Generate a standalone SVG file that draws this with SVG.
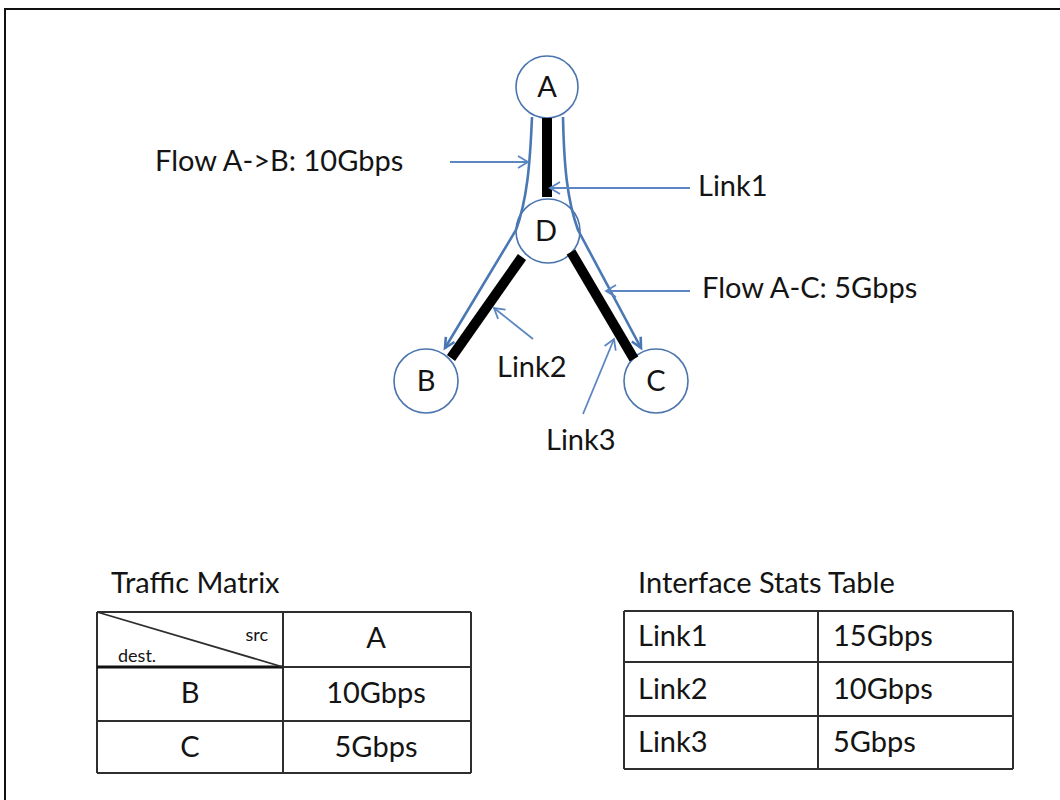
<svg xmlns="http://www.w3.org/2000/svg" width="1060" height="800" viewBox="0 0 1060 800">
  <defs>
    <style>
      .txt { font-family: Lato, "Liberation Sans", sans-serif; fill: #141414; }
      .lbl { font-size: 29px; }
      .small { font-size: 18px; }
      .node { fill: #ffffff; stroke: #4a74ad; stroke-width: 1.6; }
      .link { stroke: #000000; stroke-width: 10; fill: none; }
      .flow { stroke: #4a78b4; stroke-width: 2.6; fill: none; }
      .note { stroke: #5b86c2; stroke-width: 1.8; fill: none; }
      .grid { stroke: #2e2e2e; stroke-width: 2; fill: none; }
    </style>
    <marker id="open" markerUnits="userSpaceOnUse" markerWidth="14" markerHeight="16" refX="11" refY="7" orient="auto">
      <path d="M1,1 L11,7 L1,13" fill="none" stroke="#5b86c2" stroke-width="1.8"/>
    </marker>
    <marker id="head" markerUnits="userSpaceOnUse" markerWidth="14" markerHeight="14" refX="11" refY="6" orient="auto">
      <path d="M1,1 L11,6 L1,11" fill="none" stroke="#4a78b4" stroke-width="2.6"/>
    </marker>
  </defs>

  <rect width="1060" height="800" fill="#ffffff"/>
  <!-- page frame -->
  <path d="M5,800 L5,9 L1060,9" fill="none" stroke="#111111" stroke-width="2"/>

  <!-- nodes -->
  <g id="node-A">
    <circle class="node" cx="547" cy="87" r="31"/>
    <text class="txt lbl" x="547" y="97" text-anchor="middle">A</text>
  </g>
  <g id="node-D">
    <circle class="node" cx="548" cy="231" r="32"/>
    <text class="txt lbl" x="546" y="241" text-anchor="middle">D</text>
  </g>
  <g id="node-B">
    <circle class="node" cx="426" cy="381" r="32"/>
    <text class="txt lbl" x="426" y="391" text-anchor="middle">B</text>
  </g>
  <g id="node-C">
    <circle class="node" cx="656" cy="381" r="32"/>
    <text class="txt lbl" x="656" y="391" text-anchor="middle">C</text>
  </g>

  <!-- connectors: links, flows and callouts -->
  <g id="connectors">
    <line id="link1" class="link" x1="547" y1="118" x2="547" y2="197"/>
    <line id="link2" class="link" x1="522" y1="257" x2="451" y2="358"/>
    <line id="link3" class="link" x1="571" y1="252" x2="634" y2="359"/>

    <path id="flow-ab" class="flow" d="M532,117 C530,165 527,200 516,230 L445,348" marker-end="url(#head)"/>
    <path id="flow-ac" class="flow" d="M563,117 C564,165 567,200 578,230 L641,348" marker-end="url(#head)"/>

    <line class="note" x1="450" y1="162" x2="528" y2="162" marker-end="url(#open)"/>
    <line class="note" x1="690" y1="188" x2="550" y2="188" marker-end="url(#open)"/>
    <line class="note" x1="690" y1="291" x2="606" y2="291" marker-end="url(#open)"/>
    <line class="note" x1="533" y1="339" x2="494" y2="308" marker-end="url(#open)"/>
    <line class="note" x1="583" y1="414" x2="614" y2="339" marker-end="url(#open)"/>
  </g>

  <!-- callout labels -->
  <text class="txt lbl" x="155" y="171">Flow A-&gt;B: 10Gbps</text>
  <text class="txt lbl" x="698" y="196">Link1</text>
  <text class="txt lbl" x="702" y="298">Flow A-C: 5Gbps</text>
  <text class="txt lbl" x="497" y="377">Link2</text>
  <text class="txt lbl" x="546" y="450">Link3</text>

  <!-- traffic matrix -->
  <g id="traffic-matrix">
    <text class="txt lbl" x="111" y="593">Traffic Matrix</text>
    <path class="grid" d="M97,612 H471 M97,721 H471 M97,773 H471 M283,667 H471 M97,612 V773 M283,612 V773 M471,612 V773"/>
    <path d="M97,667 H283" stroke="#111111" stroke-width="3"/>
    <path d="M97,612 L283,667" stroke="#2e2e2e" stroke-width="1.8"/>
    <text class="txt small" x="268" y="641" text-anchor="end">src</text>
    <text class="txt small" x="118" y="662">dest.</text>
    <text class="txt lbl" x="376" y="648" text-anchor="middle">A</text>
    <text class="txt lbl" x="190" y="703" text-anchor="middle">B</text>
    <text class="txt lbl" x="376" y="703" text-anchor="middle">10Gbps</text>
    <text class="txt lbl" x="190" y="757" text-anchor="middle">C</text>
    <text class="txt lbl" x="376" y="757" text-anchor="middle">5Gbps</text>
  </g>

  <!-- interface stats table -->
  <g id="interface-stats">
    <text class="txt lbl" x="638" y="593">Interface Stats Table</text>
    <path class="grid" d="M624,611 H1013 M624,662 H1013 M624,716 H1013 M624,769 H1013 M624,611 V769 M818,611 V769 M1013,611 V769"/>
    <text class="txt lbl" x="638" y="646">Link1</text>
    <text class="txt lbl" x="833" y="646">15Gbps</text>
    <text class="txt lbl" x="638" y="699">Link2</text>
    <text class="txt lbl" x="833" y="699">10Gbps</text>
    <text class="txt lbl" x="638" y="752">Link3</text>
    <text class="txt lbl" x="833" y="752">5Gbps</text>
  </g>
</svg>
